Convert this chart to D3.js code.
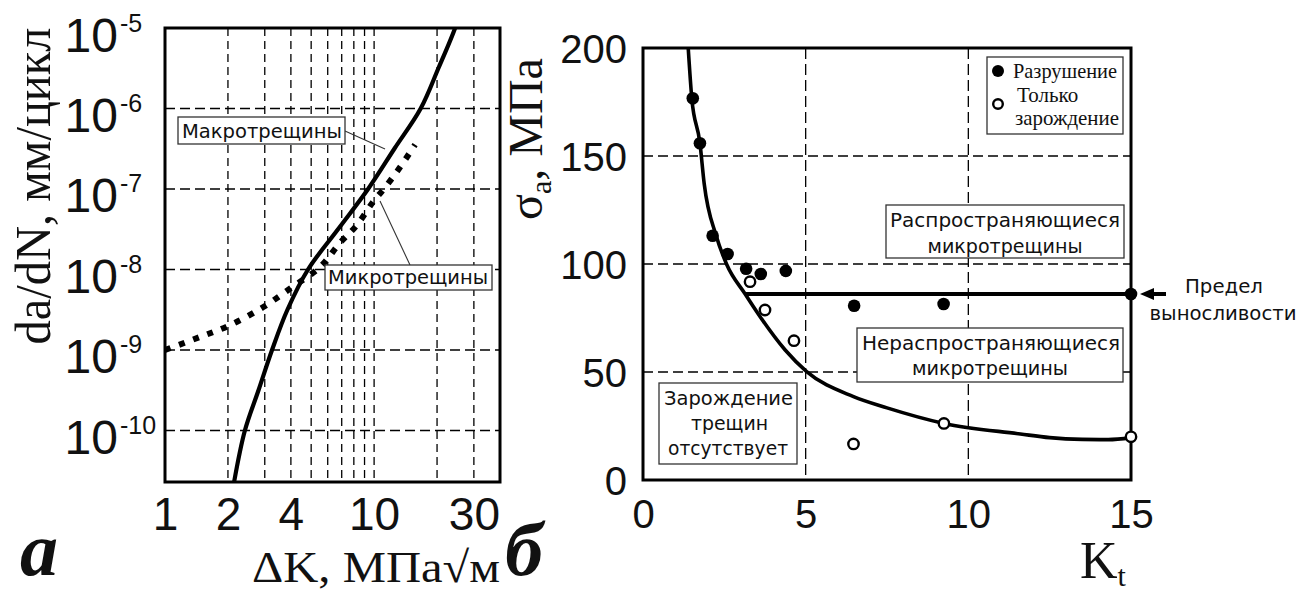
<!DOCTYPE html>
<html><head><meta charset="utf-8">
<script src="https://cdn.jsdelivr.net/npm/d3@7"></script>
<style>body{margin:0;background:#fff}</style>
</head><body>
<svg id="c" width="1314" height="595"></svg>
<script>
// ---------- DATA ----------
// Panel a
const leftXTicks = [1, 2, 4, 10, 30];
const leftXGrid = [2, 3, 4, 5, 6, 7, 8, 9, 10, 20, 30];
const leftYTicks = [1e-5, 1e-6, 1e-7, 1e-8, 1e-9, 1e-10];
const leftYExp = ["-5", "-6", "-7", "-8", "-9", "-10"];
const macroDK   = [2.14, 2.41, 2.80, 3.25, 3.85, 4.83, 6.72, 9.36, 12.5, 16.7, 20.3, 24.4, 25.7];
const macroRate = [2.29e-11, 1e-10, 3.16e-10, 1e-9, 3.16e-9, 1e-8, 3.16e-8, 1e-7, 3.16e-7, 1e-6, 3.16e-6, 1e-5, 1.58e-5];
const microDK   = [1, 1.47, 2.05, 2.94, 4.05, 5.51, 6.87, 8.27, 9.89, 11.3, 13.3, 15.7];
const microRate = [1e-9, 1.45e-9, 2.04e-9, 3.39e-9, 6.03e-9, 1.07e-8, 2.14e-8, 3.55e-8, 6.92e-8, 1.05e-7, 1.86e-7, 3.55e-7];
const leftLabels = ["Макротрещины", "Микротрещины"];

// Panel б
const rightXTicks = [0, 5, 10, 15];
const rightYTicks = [0, 50, 100, 150, 200];
const rightXGrid = [5, 10];
const rightYGrid = [50, 100, 150];
const fitKt    = [1.39, 1.50, 1.75, 1.88, 2.25, 2.57, 3.14, 3.60, 4.37, 5.03, 6.47, 7.5, 9.25, 11.6, 12.5, 13.5, 14.3, 15];
const fitSigma = [200, 176.7, 156, 137.3, 113.1, 99.9, 86.1, 75.6, 60.2, 50.2, 38.6, 33.4, 26.2, 21.3, 19.6, 18.8, 18.7, 19.5];
const failKt    = [1.53, 1.75, 2.14, 2.60, 3.17, 3.62, 4.39, 6.49, 9.24, 15];
const failSigma = [176.7, 155.9, 113.1, 104.6, 97.8, 95.4, 96.8, 80.7, 81.5, 86.1];
const initKt    = [3.29, 3.75, 4.64, 6.47, 9.25, 15];
const initSigma = [91.8, 78.7, 64.5, 16.7, 26.2, 20.0];
const enduranceLimit = 86.1;
const enduranceFromKt = 3.14;
const legendLabels = ["Разрушение", "Только", "зарождение"];

// ---------- DRAWING ----------
const svg = d3.select("#c");
const sans = "'DejaVu Sans', sans-serif";
const num = "'Liberation Sans', Arial, sans-serif";
const serif = "'Liberation Serif', 'Times New Roman', serif";
const dash = "8,5";

function box(x0, y0, x1, y1) {
  svg.append("rect").attr("x", x0).attr("y", y0).attr("width", x1 - x0).attr("height", y1 - y0)
    .attr("fill", "#fff").attr("stroke", "#333").attr("stroke-width", 1.3);
}
function label(txt, x, y, len, size, family, anchor) {
  const t = svg.append("text").attr("x", x).attr("y", y).attr("font-family", family || sans)
    .attr("font-size", size || 20).attr("fill", "#111").attr("text-anchor", anchor || "start").text(txt);
  if (len) t.attr("textLength", len).attr("lengthAdjust", "spacingAndGlyphs");
  return t;
}

// ===== Panel a =====
const xL = d3.scaleLog().domain([1, 40]).range([165, 500]);
const yL = d3.scaleLog().domain([Math.pow(10, -10.64), 1e-5]).range([482, 28]);

svg.append("g").selectAll("line").data(leftXGrid).join("line")
  .attr("x1", d => xL(d)).attr("x2", d => xL(d)).attr("y1", yL.range()[1]).attr("y2", yL.range()[0])
  .attr("stroke", "#000").attr("stroke-width", 1.3).attr("stroke-dasharray", dash);
svg.append("g").selectAll("line").data(leftYTicks.slice(1)).join("line")
  .attr("y1", d => yL(d)).attr("y2", d => yL(d)).attr("x1", xL.range()[0]).attr("x2", xL.range()[1])
  .attr("stroke", "#000").attr("stroke-width", 1.3).attr("stroke-dasharray", "10,5");

svg.append("defs").append("clipPath").attr("id", "clipL").append("rect")
  .attr("x", 165).attr("y", 28).attr("width", 335).attr("height", 454);

const lineL = d3.line().x(d => xL(d[0])).y(d => yL(d[1])).curve(d3.curveCatmullRom.alpha(0.5));
svg.append("path").attr("clip-path", "url(#clipL)")
  .attr("d", lineL(microDK.map((k, i) => [k, microRate[i]])))
  .attr("fill", "none").attr("stroke", "#000").attr("stroke-width", 6).attr("stroke-dasharray", "6,9");
svg.append("path").attr("clip-path", "url(#clipL)")
  .attr("d", lineL(macroDK.map((k, i) => [k, macroRate[i]])))
  .attr("fill", "none").attr("stroke", "#000").attr("stroke-width", 4.2);

svg.append("rect").attr("x", 165).attr("y", 28).attr("width", 335).attr("height", 454)
  .attr("fill", "none").attr("stroke", "#000").attr("stroke-width", 3);

// axes a
const axYL = svg.append("g").attr("transform", "translate(165,0)")
  .call(d3.axisLeft(yL).tickValues(leftYTicks).tickSize(0).tickFormat(""));
axYL.select(".domain").remove();
axYL.selectAll(".tick").each(function (d, i) {
  const g = d3.select(this);
  g.select("text").remove();
  g.append("text").attr("x", -47).attr("y", 23).attr("text-anchor", "end")
    .attr("font-family", num).attr("font-size", 48).attr("fill", "#111").text("10");
  g.append("text").attr("x", -45).attr("y", 3).attr("text-anchor", "start")
    .attr("font-family", num).attr("font-size", 25).attr("fill", "#111").text(leftYExp[i]);
});
const axXL = svg.append("g").attr("transform", "translate(0,482)")
  .call(d3.axisBottom(xL).tickValues(leftXTicks).tickSize(0).tickFormat(d => d));
axXL.select(".domain").remove();
axXL.selectAll("text").attr("y", 48).attr("dy", 0).attr("font-family", num).attr("font-size", 46).attr("fill", "#111");

// labels a
svg.append("line").attr("x1", 345).attr("y1", 131).attr("x2", 385).attr("y2", 149).attr("stroke", "#333").attr("stroke-width", 1.1);
svg.append("line").attr("x1", 410).attr("y1", 265).attr("x2", 380).attr("y2", 201).attr("stroke", "#333").attr("stroke-width", 1.1);
box(178, 117, 345, 144);
label(leftLabels[0], 182, 138, 160, 20);
box(325, 265, 492, 290);
label(leftLabels[1], 328, 284, 160, 20);

svg.append("text").attr("transform", "translate(50,186) rotate(-90)").attr("text-anchor", "middle")
  .attr("font-family", serif).attr("font-size", 50).attr("fill", "#111")
  .attr("textLength", 317).attr("lengthAdjust", "spacingAndGlyphs").text("da/dN, мм/цикл");
label("ΔK, МПа√м", 252, 582, 248, 44, serif);
svg.append("text").attr("x", 20).attr("y", 575).attr("font-family", serif).attr("font-size", 76)
  .attr("font-weight", "bold").attr("font-style", "italic").attr("fill", "#111").text("а");

// ===== Panel б =====
const xR = d3.scaleLinear().domain([0, 15]).range([643, 1131]);
const yR = d3.scaleLinear().domain([0, 200]).range([480, 48]);

svg.append("g").selectAll("line").data(rightXGrid).join("line")
  .attr("x1", d => xR(d)).attr("x2", d => xR(d)).attr("y1", yR(200)).attr("y2", yR(0))
  .attr("stroke", "#000").attr("stroke-width", 1.3).attr("stroke-dasharray", "11,5");
svg.append("g").selectAll("line").data(rightYGrid).join("line")
  .attr("y1", d => yR(d)).attr("y2", d => yR(d)).attr("x1", xR(0)).attr("x2", xR(15))
  .attr("stroke", "#000").attr("stroke-width", 1.3).attr("stroke-dasharray", "10,5");

const lineR = d3.line().x(d => xR(d[0])).y(d => yR(d[1])).curve(d3.curveMonotoneX);
svg.append("path").attr("d", lineR(fitKt.map((k, i) => [k, fitSigma[i]])))
  .attr("fill", "none").attr("stroke", "#000").attr("stroke-width", 3.6);
svg.append("line").attr("x1", xR(enduranceFromKt)).attr("x2", xR(15))
  .attr("y1", yR(enduranceLimit)).attr("y2", yR(enduranceLimit))
  .attr("stroke", "#000").attr("stroke-width", 4);

svg.append("rect").attr("x", 643).attr("y", 48).attr("width", 488).attr("height", 432)
  .attr("fill", "none").attr("stroke", "#000").attr("stroke-width", 3);

svg.append("g").selectAll("circle").data(failKt.map((k, i) => [k, failSigma[i]])).join("circle")
  .attr("cx", d => xR(d[0])).attr("cy", d => yR(d[1])).attr("r", 6.3).attr("fill", "#000");
svg.append("g").selectAll("circle").data(initKt.map((k, i) => [k, initSigma[i]])).join("circle")
  .attr("cx", d => xR(d[0])).attr("cy", d => yR(d[1])).attr("r", 5.2)
  .attr("fill", "#fff").attr("stroke", "#000").attr("stroke-width", 2.4);

// axes б
const axYR = svg.append("g").attr("transform", "translate(643,0)")
  .call(d3.axisLeft(yR).tickValues(rightYTicks).tickSize(0).tickFormat(d => d));
axYR.select(".domain").remove();
axYR.selectAll("text").attr("x", -16).attr("dy", 0).attr("y", 14)
  .attr("font-family", num).attr("font-size", 40).attr("fill", "#111");
const axXR = svg.append("g").attr("transform", "translate(0,480)")
  .call(d3.axisBottom(xR).tickValues(rightXTicks).tickSize(0).tickFormat(d => d));
axXR.select(".domain").remove();
axXR.selectAll("text").attr("y", 48).attr("dy", 0).attr("font-family", num).attr("font-size", 40).attr("fill", "#111");

// legend
box(987, 57, 1123, 134);
svg.append("circle").attr("cx", 998).attr("cy", 71).attr("r", 6).attr("fill", "#000");
svg.append("circle").attr("cx", 998).attr("cy", 104).attr("r", 4.8).attr("fill", "#fff").attr("stroke", "#000").attr("stroke-width", 2.4);
label(legendLabels[0], 1013, 78, 104, 21, serif);
label(legendLabels[1], 1017, 102, null, 21, serif);
label(legendLabels[2], 1015, 125, 104, 21, serif);

// region boxes
box(886, 205, 1124, 258);
label("Распространяющиеся", 1005, 227, 230, 20, sans, "middle");
label("микротрещины", 1005, 253, 155, 20, sans, "middle");
box(857, 328, 1123, 382);
label("Нераспространяющиеся", 991, 350, 258, 20, sans, "middle");
label("микротрещины", 990, 375, 156, 20, sans, "middle");
box(659, 383, 797, 464);
label("Зарождение", 728.5, 405, 129, 20, sans, "middle");
label("трещин", 729.5, 430, 77, 20, sans, "middle");
label("отсутствует", 728, 455, 120, 20, sans, "middle");

// endurance annotation
const ey = yR(enduranceLimit);
svg.append("line").attr("x1", 1150).attr("x2", 1166).attr("y1", ey).attr("y2", ey).attr("stroke", "#000").attr("stroke-width", 4);
svg.append("path").attr("d", `M1140,${ey} L1154,${ey - 6} L1154,${ey + 6} Z`).attr("fill", "#000");
label("Предел", 1224, 293, 78, 20, sans, "middle");
label("выносливости", 1223, 320, 147, 20, sans, "middle");

// titles б
const yt = svg.append("text").attr("transform", "translate(542,139) rotate(-90)").attr("text-anchor", "middle")
  .attr("font-family", serif).attr("font-size", 48).attr("fill", "#111");
yt.append("tspan").text("σ");
yt.append("tspan").attr("font-size", 30).attr("dy", 9).text("a");
yt.append("tspan").attr("dy", -9).text(", МПа");
const xt = svg.append("text").attr("x", 1080).attr("y", 578).attr("font-family", serif).attr("font-size", 52).attr("fill", "#111");
xt.append("tspan").text("K");
xt.append("tspan").attr("font-size", 30).attr("dy", 8).text("t");
svg.append("text").attr("x", 505).attr("y", 575).attr("font-family", serif).attr("font-size", 76)
  .attr("font-weight", "bold").attr("font-style", "italic").attr("fill", "#111").text("б");
</script>
</body></html>
